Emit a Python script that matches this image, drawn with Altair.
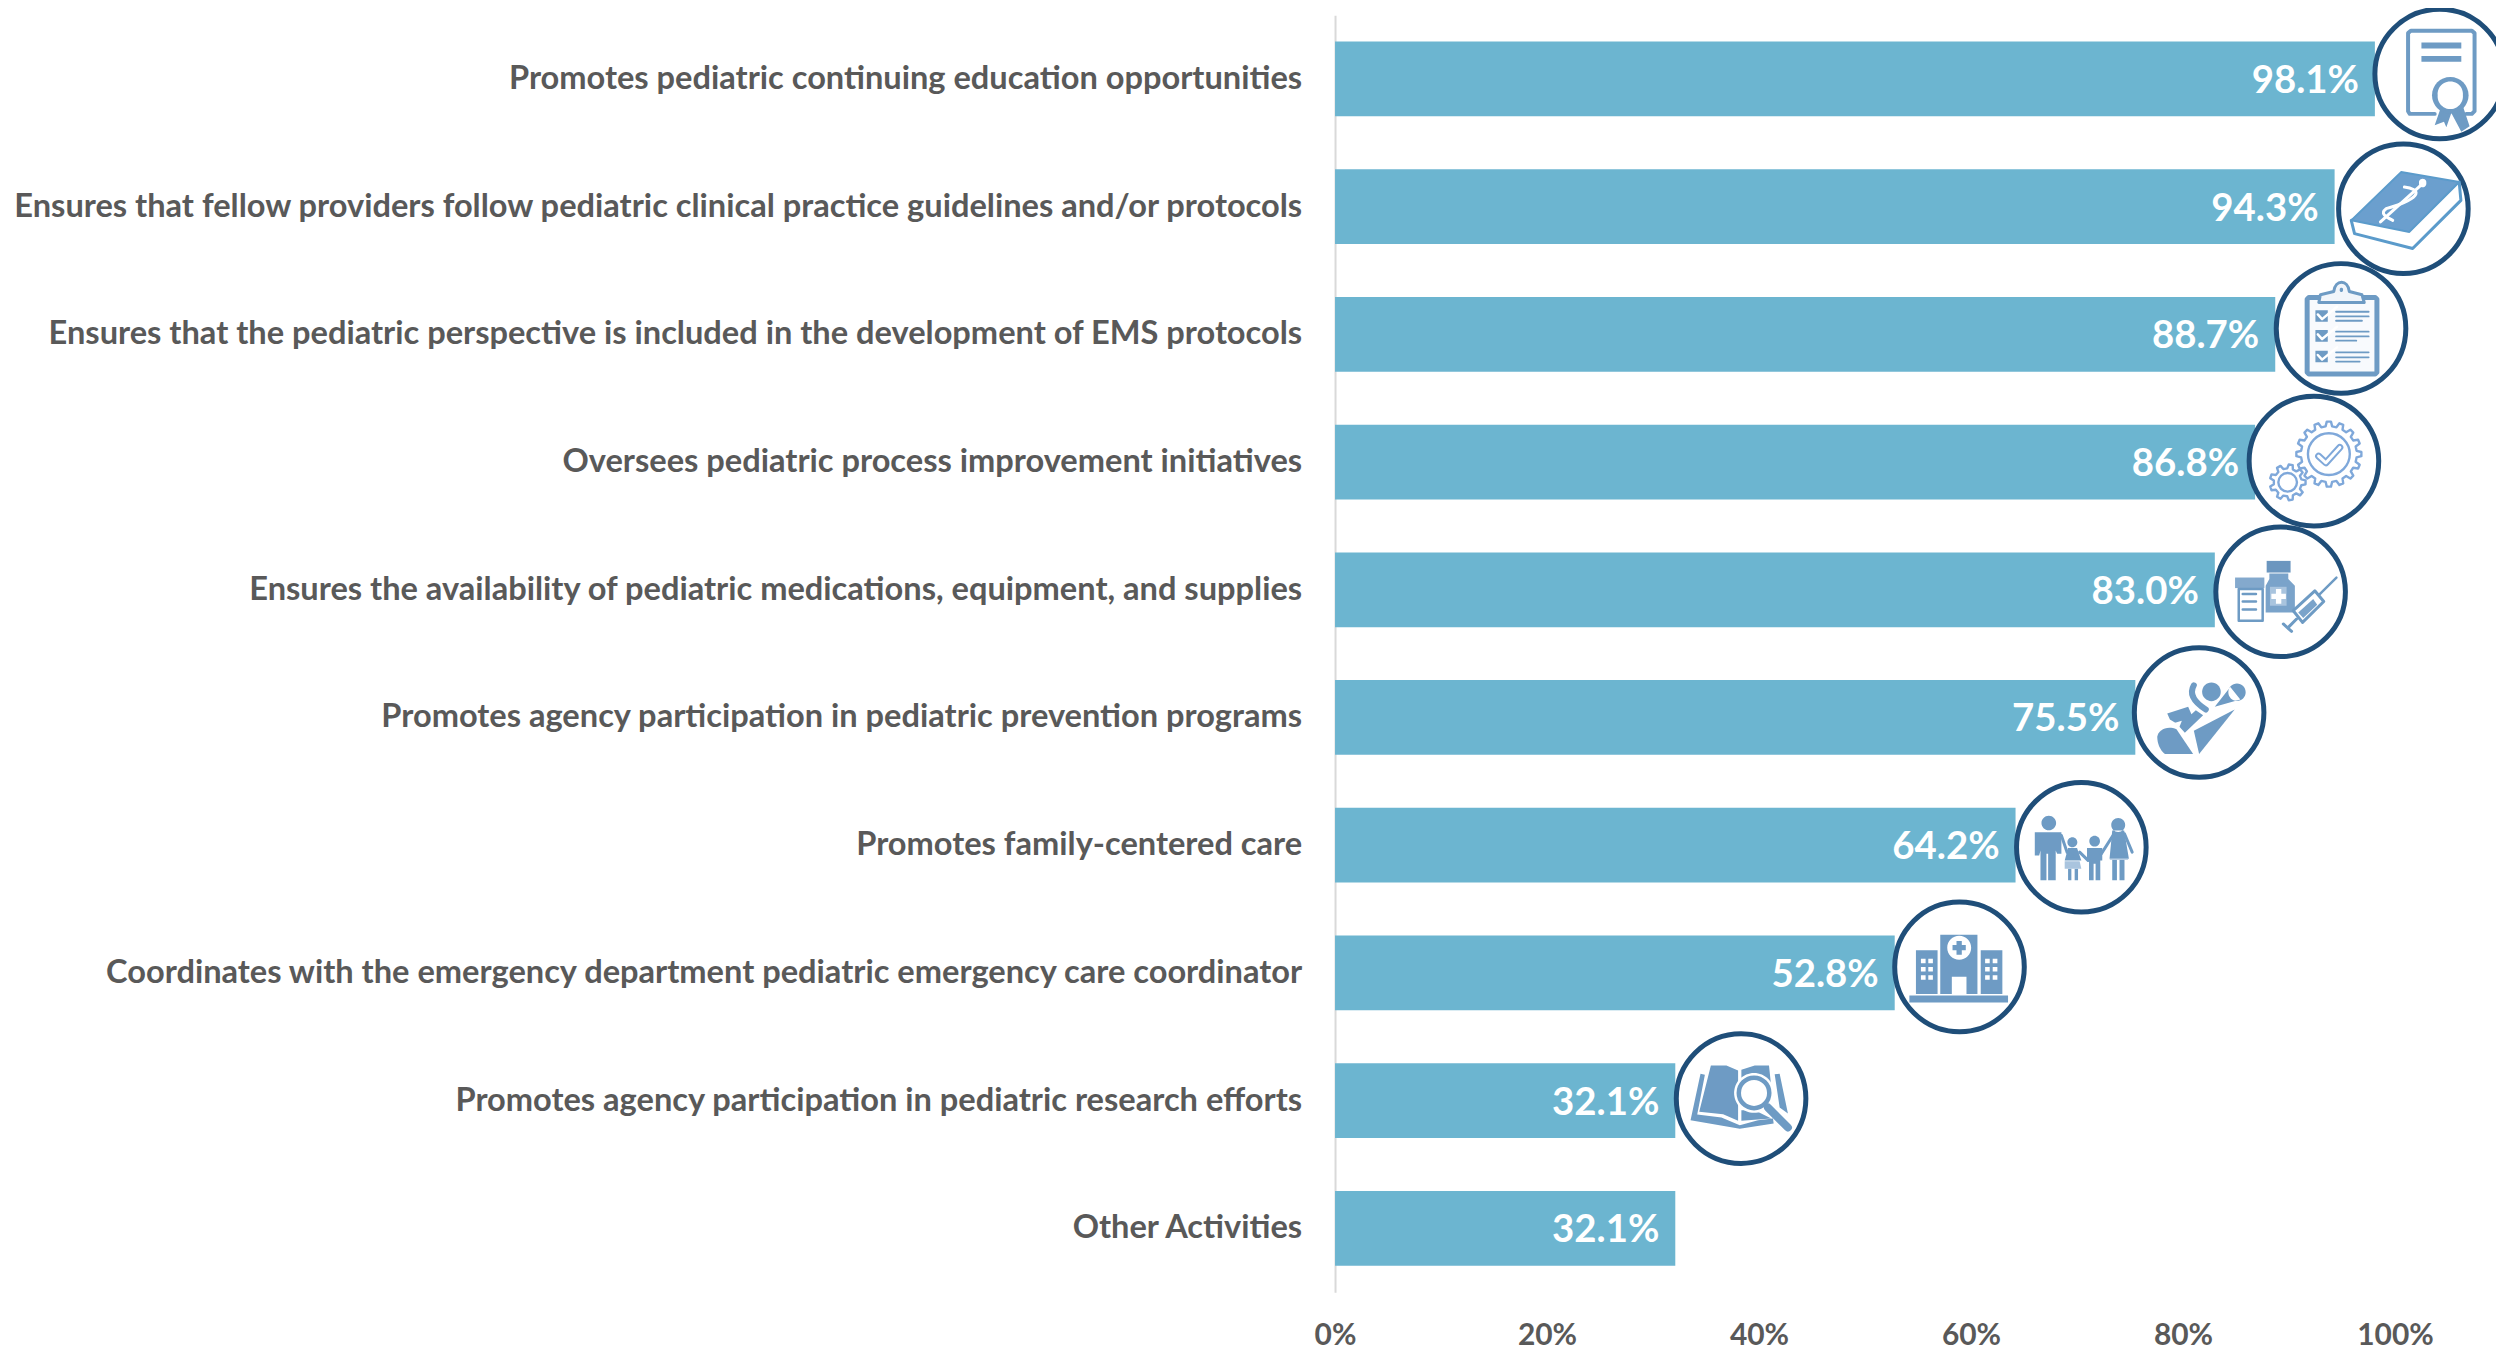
import math
import altair as alt
import pandas as pd

categories = [
    "Promotes pediatric continuing education opportunities",
    "Ensures that fellow providers follow pediatric clinical practice guidelines and/or protocols",
    "Ensures that the pediatric perspective is included in the development of EMS protocols",
    "Oversees pediatric process improvement initiatives",
    "Ensures the availability of pediatric medications, equipment, and supplies",
    "Promotes agency participation in pediatric prevention programs",
    "Promotes family-centered care",
    "Coordinates with the emergency department pediatric emergency care coordinator",
    "Promotes agency participation in pediatric research efforts",
    "Other Activities",
]
values = [98.1, 94.3, 88.7, 86.8, 83.0, 75.5, 64.2, 52.8, 32.1, 32.1]
x_ticks = [0, 20, 40, 60, 80, 100]

# pixel nudges of each badge relative to its bar end and bar centre
badge_dx = [65, 69, 66, 59, 66, 64, 66, 65, 66]
badge_dy = [-5, 2, -6, -1, 2, -5, 2, -6, -2]

BAR = "#6CB5D0"
GREY = "#595959"
RING = "#1F4E79"
BLUE = "#6E9BC4"
BLUE2 = "#7FA8DA"
LIGHT = "#F1F5FA"
WHITE = "#FFFFFF"
FONT = "Lato"
K = 2496 / 2488  # the page shrinks a 2496-wide drawing to 2488


def poly(c, pts, close=True):
    s = " ".join(("M" if i == 0 else "L") + f"{(x-c[0])/3:.1f} {(y-c[1])/3:.1f}" for i, (x, y) in enumerate(pts))
    return s + (" Z" if close else "")


def rect(c, x0, y0, x1, y1):
    return poly(c, [(x0, y0), (x1, y0), (x1, y1), (x0, y1)])


def circ(c, x, y, r):
    X, Y, R = (x - c[0]) / 3, (y - c[1]) / 3, r / 3
    return f"M{X-R:.1f} {Y:.1f} A{R:.1f} {R:.1f} 0 1 0 {X+R:.1f} {Y:.1f} A{R:.1f} {R:.1f} 0 1 0 {X-R:.1f} {Y:.1f} Z"


def gear(c, x, y, r0, r1, n):
    pts = []
    for i in range(n):
        a = 2 * math.pi * i / n
        w = 2 * math.pi / n
        for da, r in [(-0.3, r0), (-0.16, r1), (0.16, r1), (0.3, r0)]:
            pts.append((x + r * math.cos(a + da * w), y + r * math.sin(a + da * w)))
    return poly(c, pts)


def s(path, fill=None, stroke=None, w=0):
    return dict(path=path, fill=fill, stroke=stroke, w=w)


# ---- icon glyphs ----------------------------------------------------------
c = (1015, 218)
cert = [
    s(poly(c, [(1000, 338), (925, 338), (920, 330), (920, 95), (928, 88), (1112, 88), (1120, 95), (1120, 330), (1112, 338), (1095, 338)], False), None, BLUE, 4),
    s(rect(c, 960, 123, 1080, 141) + " " + rect(c, 960, 164, 1080, 181), BLUE),
    s(poly(c, [(1018, 320), (1000, 372), (1028, 362), (1035, 378), (1050, 335)]) + " " + poly(c, [(1050, 335), (1080, 392), (1105, 375), (1085, 315)]), BLUE),
    s(circ(c, 1047, 282, 55), BLUE),
    s(circ(c, 1047, 282, 38), WHITE),
]
c = (912, 625)
book = [
    s(poly(c, [(755, 660), (765, 700), (940, 745), (1085, 600), (1080, 545)]), WHITE, "#5B9BCB", 3),
    s(poly(c, [(905, 515), (1080, 545), (930, 695), (755, 660)]), "#6B9FCE", "#5B9BCB", 2),
    s(poly(c, [(843, 665), (975, 545)], False), None, WHITE, 3),
    s(f"M{(915-912)/3:.1f} {(560-625)/3:.1f} C{(960-912)/3:.1f} {(565-625)/3:.1f} {(980-912)/3:.1f} {(590-625)/3:.1f} {(860-912)/3:.1f} {(625-625)/3:.1f} C{(840-912)/3:.1f} {(640-625)/3:.1f} {(860-912)/3:.1f} {(650-625)/3:.1f} {(880-912)/3:.1f} {(660-625)/3:.1f}", None, WHITE, 3),
    s(circ(c, 970, 548, 11), WHITE),
]
c = (302, 233)
rows = [(183, 197, 210, 365), (243, 257, 270, 348), (305, 320, 333, 358)]
clip_rows_lines = " ".join(
    poly(c, [(287, a), (385, a)], False) + " " + poly(c, [(287, b), (385, b)], False) + " " + poly(c, [(287, d), (e, d)], False)
    for a, b, d, e in rows
)
clip_boxes = " ".join(rect(c, 225, a - 5, 262, a + 30) for a, _, _, _ in rows)
clip_checks = " ".join(poly(c, [(232, a + 8), (245, a + 22), (290, a - 15)], False) for a, _, _, _ in rows)
clipb = [
    s(poly(c, [(205, 140), (405, 140), (410, 145), (410, 365), (405, 370), (205, 370), (200, 365), (200, 145)]), "#F8FAFD", BLUE, 5),
    s(f"M{(235-302)/3:.1f} {(155-233)/3:.1f} L{(240-302)/3:.1f} {(132-233)/3:.1f} L{(280-302)/3:.1f} {(122-233)/3:.1f} "
      f"C{(285-302)/3:.1f} {(85-233)/3:.1f} {(322-302)/3:.1f} {(85-233)/3:.1f} {(327-302)/3:.1f} {(122-233)/3:.1f} "
      f"L{(365-302)/3:.1f} {(132-233)/3:.1f} L{(372-302)/3:.1f} {(155-233)/3:.1f} Z", LIGHT, BLUE, 3),
    s(circ(c, 303, 117, 5), BLUE),
    s(clip_boxes, BLUE),
    s(clip_rows_lines, None, BLUE, 1.8),
    s(clip_checks, None, WHITE, 2.5),
]
c = (222, 633)
gears = [
    s(gear(c, 267, 612, 84, 98, 16), None, BLUE2, 2.4),
    s(circ(c, 267, 612, 63), None, BLUE2, 2.4),
    s(gear(c, 143, 697, 42, 54, 9), WHITE, BLUE2, 2.4),
    s(circ(c, 143, 697, 28), None, BLUE2, 2.4),
    s(poly(c, [(236, 618), (258, 638), (300, 592)], False), None, BLUE2, 7),
    s(poly(c, [(236, 618), (258, 638), (300, 592)], False), None, WHITE, 3),
]
c = (482, 183)
meds = [
    s(rect(c, 345, 140, 433, 172), "#84A9CD"),
    s(rect(c, 356, 175, 428, 270), WHITE, BLUE, 2.5),
    s(poly(c, [(368, 190), (408, 190)], False) + " " + poly(c, [(368, 212), (408, 212)], False) + " " + poly(c, [(368, 236), (408, 236)], False), None, BLUE, 2.5),
    s(rect(c, 440, 90, 512, 125), "#6B96BF"),
    s(poly(c, [(448, 128), (505, 128), (505, 145), (525, 165), (525, 245), (437, 245), (437, 165), (448, 145)]), "#7AA3CA"),
    s(rect(c, 450, 168, 500, 225), "#A9C4DE"),
    s(rect(c, 468, 175, 484, 219) + " " + rect(c, 454, 189, 498, 205), WHITE),
    s(poly(c, [(520, 240), (585, 180), (612, 212), (548, 275)]), WHITE, BLUE, 3),
    s(poly(c, [(535, 245), (580, 205), (592, 222), (550, 262)]), "#7AA3CA"),
    s(poly(c, [(600, 190), (650, 140)], False), None, BLUE, 2.5),
    s(poly(c, [(530, 265), (505, 290)], False) + " " + poly(c, [(490, 280), (515, 302)], False), None, BLUE, 3),
]
c = (238, 547)
seat = [
    s(poly(c, [(345, 538), (222, 602), (238, 672)]), BLUE),
    s(f"M{(112-238)/3:.1f} {(620-547)/3:.1f} C{(115-238)/3:.1f} {(600-547)/3:.1f} {(140-238)/3:.1f} {(585-547)/3:.1f} {(170-238)/3:.1f} {(597-547)/3:.1f} L{(220-238)/3:.1f} {(672-547)/3:.1f} L{(135-238)/3:.1f} {(672-547)/3:.1f} C{(120-238)/3:.1f} {(660-547)/3:.1f} {(112-238)/3:.1f} {(640-547)/3:.1f} {(112-238)/3:.1f} {(620-547)/3:.1f} Z", BLUE),
    s(poly(c, [(285, 530), (332, 470), (362, 508)]) + " " + circ(c, 352, 486, 26), BLUE),
    s(circ(c, 275, 485, 28), BLUE),
    s(f"M{(222-238)/3:.1f} {(465-547)/3:.1f} C{(205-238)/3:.1f} {(495-547)/3:.1f} {(230-238)/3:.1f} {(520-547)/3:.1f} {(258-238)/3:.1f} {(538-547)/3:.1f}", None, BLUE, 6),
    s(poly(c, [(142, 550), (205, 530), (215, 552), (228, 540), (250, 555), (195, 608), (170, 580), (150, 568)]), BLUE),
    s(poly(c, [(150, 582), (186, 572), (178, 592)]), WHITE),
]
c = (605, 230)
fam_fill = " ".join([
    circ(c, 507, 157, 22),
    poly(c, [(465, 185), (545, 185), (545, 250), (532, 250), (528, 240), (528, 330), (505, 330), (505, 250), (500, 250), (500, 330), (482, 330), (482, 240), (478, 255), (465, 255)]),
    circ(c, 578, 215, 15), poly(c, [(565, 232), (592, 232), (605, 270), (555, 270)]),
    rect(c, 565, 295, 575, 330), rect(c, 585, 295, 595, 330),
    circ(c, 645, 212, 16), poly(c, [(622, 232), (668, 232), (668, 270), (662, 270), (662, 330), (648, 330), (648, 280), (642, 280), (642, 330), (628, 330), (628, 270), (622, 270)]),
    circ(c, 716, 163, 21), poly(c, [(698, 180), (734, 180), (748, 265), (690, 265)]),
    rect(c, 698, 268, 712, 330), rect(c, 720, 268, 735, 330),
])
family = [
    s(fam_fill, BLUE),
    s(poly(c, [(555, 272), (600, 272), (605, 295), (555, 295)]) + " " + poly(c, [(692, 265), (747, 265), (745, 268), (690, 268)]), "#A9C4DE"),
    s(poly(c, [(545, 195), (562, 245), (580, 258)], False) + " " + poly(c, [(600, 245), (625, 270)], False) + " " + poly(c, [(700, 195), (665, 250)], False) + " " + poly(c, [(735, 190), (758, 245)], False), None, BLUE, 3),
]
c = (241, 590)
windows = " ".join(rect(c, x, y, x + 14, y + 14) for x in (125, 147, 318, 341) for y in (565, 590, 615))
hospital = [
    s(rect(c, 183, 493, 295, 672) + " " + rect(c, 110, 540, 175, 672) + " " + rect(c, 305, 540, 370, 672) + " " + rect(c, 90, 676, 387, 697), BLUE),
    s(circ(c, 240, 532, 36) + " " + rect(c, 218, 620, 262, 675) + " " + windows, WHITE),
    s(rect(c, 232, 512, 248, 553) + " " + rect(c, 220, 524, 260, 540), BLUE),
]
c = (304, 235)
bookq = [
    s(poly(c, [(213, 135), (260, 135), (295, 150), (295, 302), (250, 282), (178, 275)]), BLUE),
    s(poly(c, [(305, 148), (345, 135), (388, 135), (395, 200), (305, 200)]) + " " + poly(c, [(305, 270), (345, 270), (395, 295), (305, 302)]), BLUE),
    s(poly(c, [(182, 160), (195, 163), (172, 283), (245, 292), (300, 315), (355, 300), (400, 295), (402, 310), (300, 326), (152, 300)]) + " " + poly(c, [(405, 162), (420, 160), (445, 280), (420, 262)]), BLUE),
    s(circ(c, 343, 218, 60), WHITE),
    s(poly(c, [(385, 262), (445, 322)], False), None, BLUE, 8),
    s(circ(c, 343, 218, 46), WHITE, BLUE, 4.5),
]
icons = [cert, book, clipb, gears, meds, seat, family, hospital, bookq]

# ---- chart ----------------------------------------------------------------
df = pd.DataFrame({"category": categories, "value": values})

x = alt.X(
    "value:Q",
    scale=alt.Scale(domain=[0, 100], nice=False),
    axis=alt.Axis(
        values=x_ticks, title=None, grid=False, domain=False, ticks=False,
        labelExpr="datum.value + '%'", labelFont=FONT, labelFontWeight="bold",
        labelFontSize=30, labelColor=GREY, labelPadding=29, labelFlush=False,
    ),
)
y = alt.Y(
    "category:N",
    sort=categories,
    axis=alt.Axis(
        title=None, ticks=False, domain=True, domainColor="#D9D9D9", domainWidth=2,
        labelFont=FONT, labelFontWeight="bold", labelFontSize=32.7, labelColor=GREY,
        labelPadding=33.5, labelLimit=1400, grid=False,
    ),
)

bars = alt.Chart(df).mark_bar(size=75, color=BAR).encode(x=x, y=y)
labels = (
    alt.Chart(df)
    .transform_calculate(label="format(datum.value, '.1f') + '%'")
    .mark_text(align="right", baseline="middle", dx=-16, dy=2, color=WHITE, font=FONT, fontWeight="bold", fontSize=38.5)
    .encode(x=x, y=y, text="label:N")
)

layers = [bars, labels]
for i, parts in enumerate(icons):
    row = df.iloc[[i]]
    off = dict(xOffset=badge_dx[i], yOffset=badge_dy[i], size=4, opacity=1, strokeCap="round", strokeJoin="round")
    layers.append(
        alt.Chart(row).mark_point(shape="circle", filled=True, fill=WHITE, stroke=RING, strokeWidth=5,
                                  xOffset=badge_dx[i], yOffset=badge_dy[i], size=130 * 130, opacity=1).encode(x=x, y=y)
    )
    for p in parts:
        kw = dict(off)
        kw["shape"] = p["path"]
        if p["fill"]:
            kw.update(filled=True, fill=p["fill"])
        else:
            kw.update(filled=False)
        if p["stroke"]:
            kw.update(stroke=p["stroke"], strokeWidth=p["w"])
        else:
            kw.update(strokeWidth=0)
        layers.append(alt.Chart(row).mark_point(**kw).encode(x=x, y=y))

chart = (
    alt.layer(*layers)
    .properties(
        width=round(1060 * K, 1), height=round(1277 * K, 1),
        padding={"left": round(1327 * K, 1), "right": round(2496 - 1327 * K - 1060 * K, 1), "top": 5, "bottom": 62},
        autosize=alt.AutoSizeParams(type="none"),
    )
    .configure_view(stroke=None)
)
chart.save("out.html", embed_options={"renderer": "svg", "actions": False})
